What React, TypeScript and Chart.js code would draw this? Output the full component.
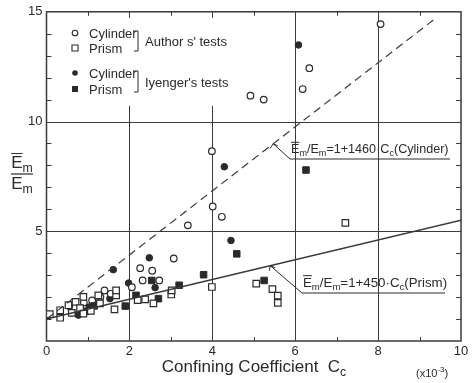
import React, { useEffect, useRef } from 'react';
import { Chart, registerables } from 'chart.js';
Chart.register(...registerables);

const FONT = '"Liberation Sans", Arial, sans-serif';
const INK = '#2a2a2a';

// Author's tests – cylinder (open circles)
const authorCylX = [0.55, 0.9, 1.1, 1.3, 1.4, 1.55, 2.06, 2.26, 2.32, 2.55, 2.72, 3.07, 3.41, 4.01, 4.23, 3.99, 4.92, 5.24, 6.18, 6.34, 8.06];
const authorCylY = [1.6, 1.75, 1.85, 2.0, 2.3, 2.15, 2.45, 3.32, 2.76, 3.2, 2.76, 3.76, 5.27, 6.13, 5.66, 8.65, 11.18, 11.0, 11.48, 12.43, 14.44];
// Author's tests – prism (open squares)
const authorPrismX = [0.08, 0.33, 0.33, 0.53, 0.61, 0.7, 0.81, 0.89, 0.89, 1.07, 1.25, 1.29, 1.64, 1.68, 1.68, 2.2, 2.38, 2.58, 3.01, 3.02, 3.99, 5.06, 5.45, 5.58, 5.58, 7.21];
const authorPrismY = [1.22, 1.06, 1.4, 1.63, 1.28, 1.78, 1.5, 2.01, 1.25, 1.37, 2.08, 1.71, 1.44, 2.08, 2.31, 1.86, 1.9, 1.71, 2.12, 2.31, 2.46, 2.61, 2.36, 2.07, 1.74, 5.38];
// Iyenger's tests – cylinder (filled circles)
const iyCylX = [0.77, 1.03, 1.2, 1.53, 1.61, 1.98, 2.48, 2.62, 4.29, 4.45, 6.08];
const iyCylY = [1.18, 1.55, 1.7, 1.93, 3.25, 2.64, 3.79, 2.43, 7.94, 4.58, 13.49];
// Iyenger's tests – prism (filled squares)
const iyPrismX = [0.95, 1.15, 1.9, 2.16, 2.54, 2.7, 3.2, 3.79, 4.59, 5.25, 6.26];
const iyPrismY = [1.35, 1.6, 1.59, 2.08, 2.76, 1.93, 2.54, 3.02, 3.97, 2.76, 7.79];

// Fitted lines: Em/Em = 1 + k * Cc  (Cc in 1e-3 units)
const intercept = 1;
const cylSlope = 1.46;
const prismSlope = 0.45;
const cylLineX = [0, 9.43];
const prismLineX = [0, 10];

const xTickLabels = [0, 2, 4, 6, 8, 10];
const yTickLabels = [5, 10, 15];
const xGrid = [2, 4, 6, 8];
const yGrid = [5, 10];

const pts = (xs: number[], ys: number[]) => xs.map((x, i) => ({ x, y: ys[i] }));

type Seg = { t: string; sub?: boolean; sup?: boolean; over?: boolean };
function drawRich(ctx: CanvasRenderingContext2D, segs: Seg[], x: number, y: number, size: number, align: 'left' | 'center' = 'left') {
  const fontFor = (s: Seg) => `${s.sub || s.sup ? size * 0.72 : size}px ${FONT}`;
  const widths = segs.map((s) => { ctx.font = fontFor(s); return ctx.measureText(s.t).width; });
  const total = widths.reduce((a, b) => a + b, 0);
  let cx = align === 'center' ? x - total / 2 : x;
  ctx.textAlign = 'left';
  ctx.textBaseline = 'alphabetic';
  segs.forEach((s, i) => {
    ctx.font = fontFor(s);
    const yy = s.sub ? y + size * 0.22 : s.sup ? y - size * 0.45 : y;
    ctx.fillText(s.t, cx, yy);
    if (s.over) {
      ctx.beginPath();
      ctx.lineWidth = 1;
      ctx.moveTo(cx, y - size * 0.85);
      ctx.lineTo(cx + widths[i], y - size * 0.85);
      ctx.stroke();
    }
    cx += widths[i];
  });
  return total;
}

const deco = {
  id: 'deco',
  beforeDatasetsDraw(chart: any) {
    const { ctx, chartArea: a, scales } = chart;
    const xs = scales.x, ys = scales.y;
    ctx.save();
    ctx.strokeStyle = '#3a3a3a';
    ctx.lineWidth = 1;
    xGrid.forEach((v) => {
      const px = Math.round(xs.getPixelForValue(v)) + 0.5;
      ctx.beginPath(); ctx.moveTo(px, a.top); ctx.lineTo(px, a.bottom); ctx.stroke();
    });
    yGrid.forEach((v) => {
      const py = Math.round(ys.getPixelForValue(v)) + 0.5;
      ctx.beginPath(); ctx.moveTo(a.left, py); ctx.lineTo(a.right, py); ctx.stroke();
    });
    for (let v = 1; v < 10; v++) {
      const px = Math.round(xs.getPixelForValue(v)) + 0.5;
      ctx.beginPath(); ctx.moveTo(px, a.bottom); ctx.lineTo(px, a.bottom - 4); ctx.stroke();
      ctx.beginPath(); ctx.moveTo(px, a.top); ctx.lineTo(px, a.top + 4); ctx.stroke();
    }
    for (let v = 1; v < 15; v++) {
      const py = Math.round(ys.getPixelForValue(v)) + 0.5;
      ctx.beginPath(); ctx.moveTo(a.left, py); ctx.lineTo(a.left + 5, py); ctx.stroke();
      ctx.beginPath(); ctx.moveTo(a.right, py); ctx.lineTo(a.right - 5, py); ctx.stroke();
    }
    ctx.fillStyle = '#fff';
    ctx.fillRect(a.left + 6, a.top + 6, 190, 88);
    ctx.lineWidth = 1.5;
    ctx.strokeRect(a.left, a.top, a.right - a.left, a.bottom - a.top);
    ctx.restore();
  },
  afterDraw(chart: any) {
    const { ctx, scales } = chart;
    const xs = scales.x, ys = scales.y;
    ctx.save();
    ctx.fillStyle = INK;
    ctx.strokeStyle = INK;
    ctx.lineWidth = 1;

    // legend
    const symX = 75;
    const rows = [
      { y: 33, t: 'Cylinder', shape: 'circle', fill: false },
      { y: 48, t: 'Prism', shape: 'rect', fill: false },
      { y: 73, t: 'Cylinder', shape: 'circle', fill: true },
      { y: 89, t: 'Prism', shape: 'rect', fill: true },
    ];
    rows.forEach((r) => {
      ctx.beginPath();
      if (r.shape === 'circle') ctx.arc(symX, r.y, 2.8, 0, Math.PI * 2);
      else ctx.rect(symX - 3, r.y - 3, 6, 6);
      if (r.fill) ctx.fill(); else { ctx.lineWidth = 1.1; ctx.stroke(); }
      ctx.font = `13px ${FONT}`;
      ctx.textAlign = 'left';
      ctx.textBaseline = 'middle';
      ctx.fillText(r.t, 89, r.y + 1);
    });
    const bracket = (y1: number, y2: number, bx: number) => {
      ctx.lineWidth = 1;
      ctx.beginPath();
      ctx.moveTo(bx - 5, y1); ctx.lineTo(bx, y1); ctx.lineTo(bx, y2); ctx.lineTo(bx - 4, y2);
      ctx.stroke();
    };
    bracket(31, 51, 138);
    bracket(71, 92, 138);
    ctx.font = `13px ${FONT}`;
    ctx.textBaseline = 'middle';
    ctx.fillText("Author s' tests", 145, 42);
    ctx.fillText("Iyenger's tests", 145, 83);

    // annotation: cylinder
    const cx0 = 5.47;
    const ax = xs.getPixelForValue(cx0), ay = ys.getPixelForValue(intercept + cylSlope * cx0);
    ctx.lineWidth = 1;
    ctx.beginPath();
    ctx.moveTo(ax, ay); ctx.lineTo(290, 159); ctx.lineTo(450, 159);
    ctx.stroke();
    ctx.beginPath();
    ctx.moveTo(ax - 3, ay + 4.5); ctx.lineTo(ax, ay); ctx.lineTo(ax + 4.5, ay + 2);
    ctx.stroke();
    drawRich(ctx, [
      { t: 'E', over: true }, { t: 'm', sub: true }, { t: '/E' }, { t: 'm', sub: true },
      { t: '=1+1460·C' }, { t: 'c', sub: true }, { t: '(Cylinder)' },
    ], 291, 153, 12.6);

    // annotation: prism
    const px0 = 5.4;
    const bx = xs.getPixelForValue(px0), by = ys.getPixelForValue(intercept + prismSlope * px0);
    ctx.beginPath();
    ctx.moveTo(bx, by); ctx.lineTo(302, 293); ctx.lineTo(445, 293);
    ctx.stroke();
    ctx.beginPath();
    ctx.moveTo(bx - 1, by + 5); ctx.lineTo(bx, by); ctx.lineTo(bx + 5, by + 2);
    ctx.stroke();
    drawRich(ctx, [
      { t: 'E', over: true }, { t: 'm', sub: true }, { t: '/E' }, { t: 'm', sub: true },
      { t: '=1+450·C' }, { t: 'c', sub: true }, { t: '(Prism)' },
    ], 303, 287, 13.3);

    // x-axis title
    drawRich(ctx, [{ t: 'Confining Coefficient  C' }, { t: 'c', sub: true }], 254, 372, 17, 'center');
    drawRich(ctx, [{ t: '(x10' }, { t: '-3', sup: true }, { t: ')' }], 416, 377, 11);

    // y-axis title (fraction)
    drawRich(ctx, [{ t: 'E', over: true }, { t: 'm', sub: true }], 22, 168, 17, 'center');
    ctx.beginPath(); ctx.lineWidth = 1.2;
    ctx.moveTo(11, 174); ctx.lineTo(33, 174); ctx.stroke();
    drawRich(ctx, [{ t: 'E' }, { t: 'm', sub: true }], 22, 189, 17, 'center');
    ctx.restore();
  },
};

export default function App() {
  const ref = useRef<HTMLCanvasElement>(null);
  useEffect(() => {
    if (!ref.current) return;
    const openStyle = { borderColor: INK, backgroundColor: '#fff', borderWidth: 1.2 };
    const fillStyle = { borderColor: INK, backgroundColor: INK, borderWidth: 1 };
    const chart = new Chart(ref.current, {
      type: 'scatter',
      data: {
        datasets: [
          {
            type: 'line', label: 'Cylinder fit',
            data: cylLineX.map((x) => ({ x, y: intercept + cylSlope * x })),
            borderColor: '#3a3a3a', borderWidth: 1.2, borderDash: [8, 5], pointRadius: 0, fill: false,
          } as any,
          {
            type: 'line', label: 'Prism fit',
            data: prismLineX.map((x) => ({ x, y: intercept + prismSlope * x })),
            borderColor: '#3a3a3a', borderWidth: 1.4, pointRadius: 0, fill: false,
          } as any,
          { label: 'Author prism', data: pts(authorPrismX, authorPrismY), pointStyle: 'rect', pointRadius: 4.6, ...openStyle },
          { label: 'Iyenger prism', data: pts(iyPrismX, iyPrismY), pointStyle: 'rect', pointRadius: 4.6, ...fillStyle },
          { label: 'Author cylinder', data: pts(authorCylX, authorCylY), pointStyle: 'circle', pointRadius: 3.3, ...openStyle },
          { label: 'Iyenger cylinder', data: pts(iyCylX, iyCylY), pointStyle: 'circle', pointRadius: 3.3, ...fillStyle },
        ],
      },
      options: {
        responsive: false,
        animation: false,
        layout: { padding: { top: 10, right: 15, left: 0, bottom: 0 } },
        plugins: { legend: { display: false }, tooltip: { enabled: false } },
        scales: {
          x: {
            type: 'linear', min: 0, max: 10,
            afterBuildTicks: (s: any) => { s.ticks = xTickLabels.map((v) => ({ value: v })); },
            ticks: { color: INK, font: { family: FONT, size: 13 }, padding: 3, maxRotation: 0, autoSkip: false },
            grid: { display: false, drawTicks: false },
            border: { display: false },
            afterFit: (s: any) => { s.height = 42; },
          },
          y: {
            type: 'linear', min: 0, max: 15,
            afterBuildTicks: (s: any) => { s.ticks = yTickLabels.map((v) => ({ value: v })); },
            ticks: { color: INK, font: { family: FONT, size: 13 }, padding: 4, autoSkip: false },
            grid: { display: false, drawTicks: false },
            border: { display: false },
            afterFit: (s: any) => { s.width = 46.5; },
          },
        },
      },
      plugins: [deco],
    } as any);
    return () => chart.destroy();
  }, []);
  return (
    <div style={{ position: 'absolute', left: 0, top: 0, width: 476, height: 383, background: '#fff' }}>
      <canvas ref={ref} width={476} height={383} style={{ display: 'block', width: 476, height: 383 }} />
    </div>
  );
}
